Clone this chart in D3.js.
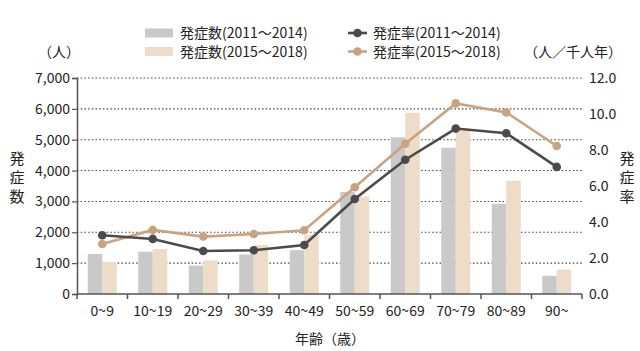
<!DOCTYPE html>
<html>
<head>
<meta charset="utf-8">
<script src="https://cdn.jsdelivr.net/npm/d3@7"></script>
<style>
body { margin: 0; background: #fff; }
text { font-family: "Noto Sans CJK JP", "Noto Sans", sans-serif; fill: #222; }
</style>
</head>
<body>
<div id="svg-container"></div>
<script>
// age groups
var ages = ["0~9", "10~19", "20~29", "30~39", "40~49", "50~59", "60~69", "70~79", "80~89", "90~"];
// case counts
var count1 = [1300, 1370, 920, 1280, 1420, 3310, 5080, 4740, 2920, 590];
var count2 = [1030, 1460, 1090, 1590, 1910, 3160, 5870, 5330, 3670, 790];
// incidence rate per 1000 person-years
var rate1 = [3.26, 3.06, 2.39, 2.43, 2.72, 5.28, 7.46, 9.19, 8.93, 7.06];
var rate2 = [2.78, 3.56, 3.19, 3.33, 3.54, 5.93, 8.35, 10.59, 10.09, 8.22];
var leftTicks = [0, 1000, 2000, 3000, 4000, 5000, 6000, 7000];
var rightTicks = [0, 2, 4, 6, 8, 10, 12];

var W = 640, H = 351;
var m = {left: 77, right: 582, top: 78, bottom: 294};
var grayBar = "#c9c9c9", beigeBar = "#ecdcc8", grayLine = "#4b4b4b", beigeLine = "#c9a37f";

var svg = d3.select("#svg-container").append("svg")
	.attr("width", W).attr("height", H);

var x = d3.scaleBand().domain(ages).range([m.left, m.right]).padding(0);
var yL = d3.scaleLinear().domain([0, 7000]).range([m.bottom, m.top]);
var yR = d3.scaleLinear().domain([0, 12]).range([m.bottom, m.top]);

// dotted gridlines
svg.append("g").selectAll("line").data(leftTicks.slice(1)).enter().append("line")
	.attr("x1", m.left).attr("x2", m.right)
	.attr("y1", function(d){ return yL(d) }).attr("y2", function(d){ return yL(d) })
	.attr("stroke", "#444").attr("stroke-width", 1.1).attr("stroke-dasharray", "1.5,2.2");

// bars
var bw = 14.5;
var bars = svg.append("g");
bars.selectAll(".b1").data(ages).enter().append("rect")
	.attr("x", function(d){ return x(d) + x.bandwidth()/2 - bw })
	.attr("y", function(d, i){ return yL(count1[i]) })
	.attr("width", bw)
	.attr("height", function(d, i){ return m.bottom - yL(count1[i]) })
	.attr("fill", grayBar);
bars.selectAll(".b2").data(ages).enter().append("rect")
	.attr("x", function(d){ return x(d) + x.bandwidth()/2 })
	.attr("y", function(d, i){ return yL(count2[i]) })
	.attr("width", bw)
	.attr("height", function(d, i){ return m.bottom - yL(count2[i]) })
	.attr("fill", beigeBar);

// axes
var axL = svg.append("g").attr("transform", "translate(" + m.left + ",0)")
	.call(d3.axisLeft(yL).tickValues(leftTicks).tickSize(5).tickFormat(d3.format(",")));
var axR = svg.append("g").attr("transform", "translate(" + m.right + ",0)")
	.call(d3.axisRight(yR).tickValues(rightTicks).tickSize(0).tickPadding(7).tickFormat(d3.format(".1f")));
axR.select(".domain").remove();
var axB = svg.append("g").attr("transform", "translate(0," + m.bottom + ")")
	.call(d3.axisBottom(x).tickSize(0).tickPadding(12));
axB.select(".domain").attr("d", "M" + m.left + ",0H" + m.right);

// band boundary ticks
svg.append("g").selectAll("line").data(ages.concat(["end"])).enter().append("line")
	.attr("x1", function(d, i){ return m.left + i * x.bandwidth() })
	.attr("x2", function(d, i){ return m.left + i * x.bandwidth() })
	.attr("y1", m.bottom).attr("y2", m.bottom + 5)
	.attr("stroke", "#555").attr("stroke-width", 1.5);

[axL, axR, axB].forEach(function(a){
	a.selectAll(".domain").attr("stroke", "#555").attr("stroke-width", 1.5);
	a.selectAll(".tick line").attr("stroke", "#555").attr("stroke-width", 1.2);
	a.selectAll("text").style("font-size", "14px").attr("fill", "#222")
		.style("font-family", "'Noto Sans CJK JP', sans-serif");
});
axL.selectAll(".tick text").attr("x", -7);

// rate lines
function drawRate(data, color) {
	var line = d3.line()
		.x(function(d, i){ return x(ages[i]) + x.bandwidth()/2 })
		.y(function(d){ return yR(d) });
	svg.append("path").datum(data).attr("d", line)
		.attr("fill", "none").attr("stroke", color).attr("stroke-width", 2.6);
	svg.append("g").selectAll("circle").data(data).enter().append("circle")
		.attr("cx", function(d, i){ return x(ages[i]) + x.bandwidth()/2 })
		.attr("cy", function(d){ return yR(d) })
		.attr("r", 4.3).attr("fill", color);
}
drawRate(rate2, beigeLine);
drawRate(rate1, grayLine);

// legend
var rowGap = 18.5;
var leg = svg.append("g").style("font-size", "14px");
var legBars = [["発症数(2011～2014)", grayBar], ["発症数(2015～2018)", beigeBar]];
legBars.forEach(function(d, i){
	leg.append("rect").attr("x", 145).attr("y", 28.5 + i * rowGap).attr("width", 28).attr("height", 9).attr("fill", d[1]);
	leg.append("text").attr("x", 180).attr("y", 38 + i * rowGap).text(d[0]);
});
var legLines = [["発症率(2011～2014)", grayLine], ["発症率(2015～2018)", beigeLine]];
legLines.forEach(function(d, i){
	var cy = 33 + i * rowGap;
	leg.append("line").attr("x1", 348).attr("x2", 367).attr("y1", cy).attr("y2", cy)
		.attr("stroke", d[1]).attr("stroke-width", 2.6);
	leg.append("circle").attr("cx", 357.5).attr("cy", cy).attr("r", 4.3).attr("fill", d[1]);
	leg.append("text").attr("x", 373).attr("y", 38 + i * rowGap).text(d[0]);
});

// unit labels and axis titles
svg.append("text").attr("x", 38).attr("y", 57).style("font-size", "14px").text("（人）");
svg.append("text").attr("x", 622).attr("y", 57).attr("text-anchor", "end").style("font-size", "14px").text("（人／千人年）");
["発", "症", "数"].forEach(function(c, i){
	svg.append("text").attr("x", 17).attr("y", 164 + i * 19).attr("text-anchor", "middle").style("font-size", "15px").text(c);
});
["発", "症", "率"].forEach(function(c, i){
	svg.append("text").attr("x", 627).attr("y", 164 + i * 19).attr("text-anchor", "middle").style("font-size", "15px").text(c);
});
svg.append("text").attr("x", 330).attr("y", 344).attr("text-anchor", "middle").style("font-size", "14px").text("年齢（歳）");
</script>
</body>
</html>
